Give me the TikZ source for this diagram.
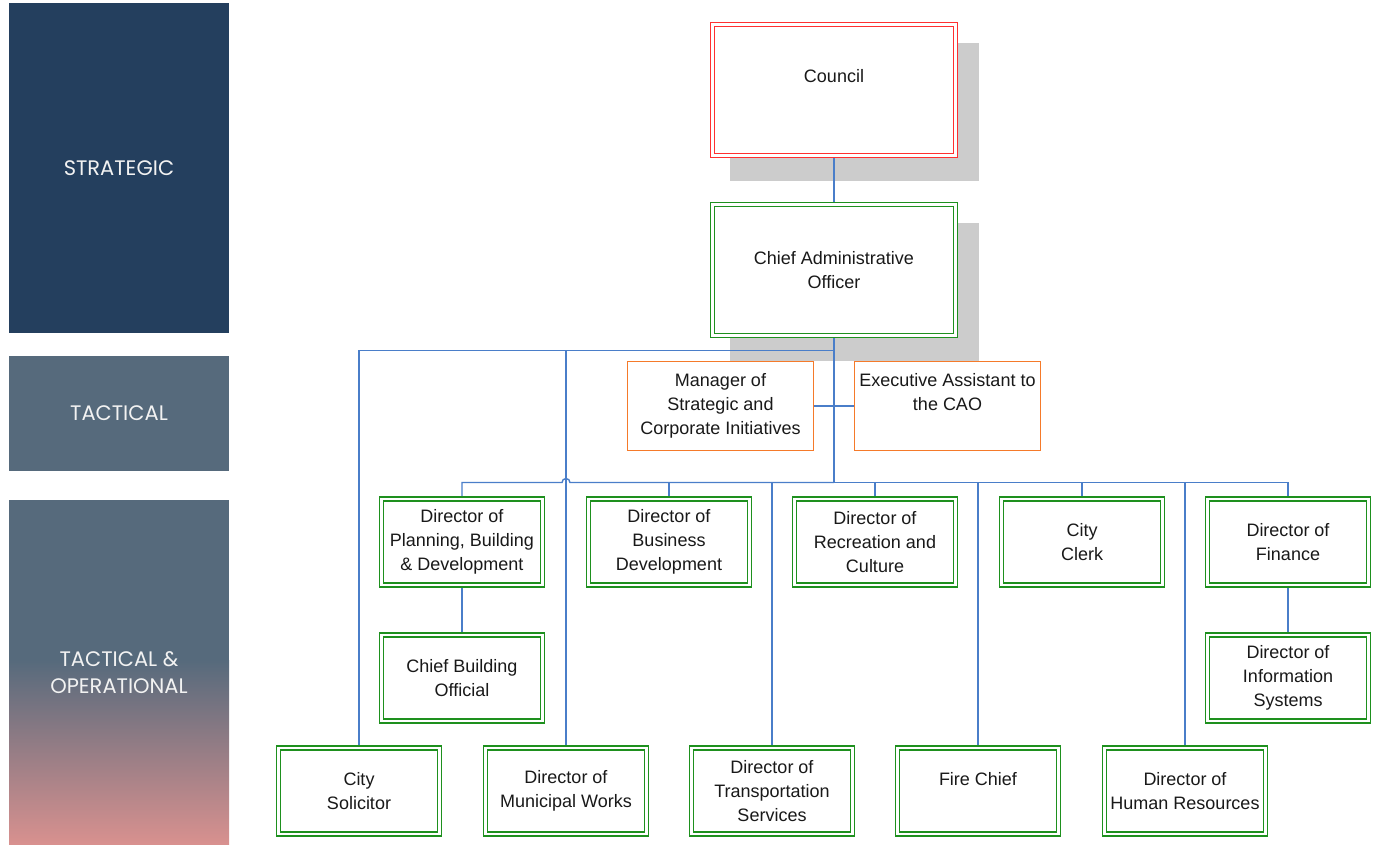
\documentclass[tikz,border=0pt]{standalone}
\usepackage{fontspec}
\setmainfont{Liberation Sans}
\newfontfamily\barfont{Poppins}
\usetikzlibrary{backgrounds}
\definecolor{navy}{HTML}{243F5E}
\definecolor{slate}{HTML}{566A7C}
\definecolor{rose}{HTML}{D9918F}
\definecolor{connc}{HTML}{4A7EC9}
\definecolor{gline}{HTML}{1E901E}
\definecolor{rline}{HTML}{FF3030}
\definecolor{oline}{HTML}{F57A2A}
\definecolor{shadec}{HTML}{CCCCCC}
\definecolor{bartext}{HTML}{F2F2F2}
\newcommand\liftup[2]{\raisebox{#1}[\height][\depth]{\begin{tabular}{@{}c@{}}#2\end{tabular}}}
\begin{document}
\begin{tikzpicture}[x=1pt,y=-1pt,
  txt/.style={font=\fontsize{18}{24}\selectfont, align=center, text=black!90},
  gbox/.style={txt, draw=gline, fill=white, double=white, double distance=2.6pt, line width=1.3pt, minimum width=161pt, minimum height=86pt, inner sep=0pt},
  bigred/.style={gbox, draw=rline, minimum width=243pt, minimum height=131pt},
  biggreen/.style={gbox, minimum width=243pt, minimum height=131pt},
  obox/.style={txt, draw=oline, fill=white, line width=1.3pt, minimum width=186pt, minimum height=89pt, inner sep=0pt},
  link/.style={draw=connc, line width=1.4pt},
  bar/.style={minimum width=220pt, inner sep=0pt, text=bartext, font=\barfont\fontsize{21}{27}\selectfont, align=center},
]
\useasboundingbox (0,0) rectangle (1376,845);
% left level bars
\node[bar, fill=navy, minimum height=330pt] (strat) at (119,168) {STRATEGIC};
\node[bar, fill=slate, minimum height=115pt] (tact) at (119,413.5) {TACTICAL};
\fill[slate] (9,500) rectangle (229,661);
\shade[top color=slate, bottom color=rose] (9,660) rectangle (229,845);
\node[bar] (tacop) at (119,673) {TACTICAL \&\\OPERATIONAL};
% boxes
\node[bigred] (council) at (834,90) {\raisebox{14pt}[\height][\depth]{Council}};
\node[biggreen] (cao) at (834,270) {Chief Administrative\\Officer};
\node[obox] (mgr) at (720.5,406) {Manager of\\Strategic and\\Corporate Initiatives};
\node[obox] (ea) at (947.5,406) {\liftup{12.5pt}{Executive Assistant to\\the CAO}};
\node[gbox] (plan) at (462,542) {Director of\\Planning, Building\\\& Development};
\node[gbox] (busd) at (669,542) {Director of\\Business\\Development};
\node[gbox] (rec) at (875,542) {Director of\\Recreation and\\Culture};
\node[gbox] (clerk) at (1082,542) {City\\Clerk};
\node[gbox] (fin) at (1288,542) {Director of\\Finance};
\node[gbox] (cbo) at (462,678) {Chief Building\\Official};
\node[gbox] (info) at (1288,678) {Director of\\Information\\Systems};
\node[gbox] (sol) at (359,791) {City\\Solicitor};
\node[gbox] (mun) at (566,791) {Director of\\Municipal Works};
\node[gbox] (trans) at (772,791) {Director of\\Transportation\\Services};
\node[gbox] (fire) at (978,791) {\raisebox{12pt}[\height][\depth]{Fire Chief}};
\node[gbox] (hr) at (1185,791) {Director of\\Human Resources};
% shadows and connectors
\begin{scope}[on background layer]
\fill[shadec] (730,43) rectangle (979,181);
\fill[shadec] (730,223) rectangle (979,361);
\coordinate (busC) at (834,482.5);
\coordinate (upC) at (834,350.5);
\coordinate (hopL) at (562,482.5);
\draw[link] (council) -- (cao);
\draw[link] (cao.south) -- (busC);
\draw[link] (upC) -| (sol.north);
\draw[link] (upC) -| (mun.north);
\draw[link] (mgr) -- (ea);
\draw[link] (plan.north) |- (hopL) arc[start angle=180, end angle=0, radius=4pt] -- (busC);
\foreach \n in {busd,rec,clerk,fin,trans,fire,hr}
  \draw[link] (busC) -| (\n.north);
\draw[link] (plan) -- (cbo);
\draw[link] (fin) -- (info);
\end{scope}
\end{tikzpicture}
\end{document}
